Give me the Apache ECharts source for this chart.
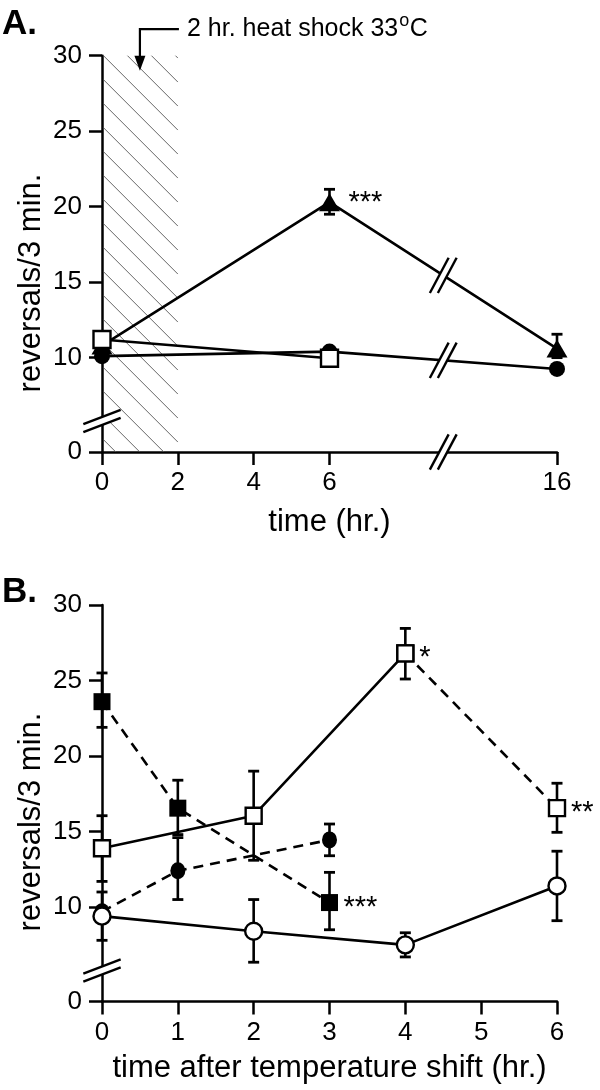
<!DOCTYPE html>
<html>
<head>
<meta charset="utf-8">
<script src="https://cdn.jsdelivr.net/npm/echarts@6.0.0/dist/echarts.min.js"></script>
<style>
html,body{margin:0;padding:0;background:#fff;}
#chart{width:600px;height:1090px;}
</style>
</head>
<body>
<div id="chart"></div>
<script>
// ---------------- data ----------------
// Panel A: hours; the 16 h point sits on the broken axis at plotting position 12
const aXTickValues = [0, 2, 4, 6, 12];
const aXTickLabels = ['0', '2', '4', '6', '16'];
const aXMax = 12;
const aBreakX = 9;
const heatShock = [0, 2];
const arrowAt = 1;

// y axis is broken: its bottom (plot value 3.75) is labelled 0
const yTickValues = [3.75, 10, 15, 20, 25, 30];
const yTickLabels = ['0', '10', '15', '20', '25', '30'];
const yMin = 3.75, yMax = 30;
const yBreakValue = 5.8;

const aTriangle = [[0, 10.8], [6, 20.3], [12, 10.6]];
const aTriangleErr = [[6, 19.5, 21.15], [12, 10.0, 11.55]];
const aCircle = [[0, 10.1], [6, 10.4], [12, 9.25]];
const aSquare = [[0, 11.2], [6, 9.96]];
const aStars = [[6, 20.3, '***']];

// Panel B
const bXTickValues = [0, 1, 2, 3, 4, 5, 6];
const bFilledSquare = [[0, 23.6], [1, 16.55], [3, 10.3]];
const bFilledSquareErr = [[0, 21.9, 25.5], [1, 14.8, 18.4], [3, 8.5, 12.3]];
const bFilledCircle = [[0, 9.7], [1, 12.4], [3, 14.45]];
const bFilledCircleErr = [[1, 10.5, 14.6], [3, 13.4, 15.5]];
const bOpenSquare = [[0, 13.9], [2, 16.05], [4, 26.8], [6, 16.55]];
const bOpenSquareErr = [[0, 11.7, 16.05], [2, 13.1, 19.0], [4, 25.1, 28.45], [6, 14.95, 18.2]];
const bOpenCircle = [[0, 9.4], [2, 8.4], [4, 7.5], [6, 11.4]];
const bOpenCircleErr = [[0, 7.8, 11.0], [2, 6.35, 10.5], [4, 6.7, 8.3], [6, 9.1, 13.7]];
const bStars = [[4, 26.8, '*'], [6, 16.55, '**'], [3, 10.3, '***']];

// ---------------- helpers ----------------
const FONT = "'Liberation Sans', Arial, Helvetica, sans-serif";
const BLACK = '#000';
const LW = 2.6;

function interpAt(series, x) {
  for (let i = 0; i < series.length - 1; i++) {
    const [x0, y0] = series[i], [x1, y1] = series[i + 1];
    if (x >= x0 && x <= x1) return y0 + (y1 - y0) * (x - x0) / (x1 - x0);
  }
  return null;
}

function measure(text, font) {
  const ctx = document.createElement('canvas').getContext('2d');
  ctx.font = font;
  return ctx.measureText(text).width;
}

function yAxis(gi) {
  return {
    gridIndex: gi, type: 'value', min: yMin, max: yMax,
    axisLine: {show: true, onZero: false, lineStyle: {color: BLACK, width: 2.5}},
    axisTick: {show: true, customValues: yTickValues, length: 13, lineStyle: {color: BLACK, width: 2.5}},
    axisLabel: {customValues: yTickValues, formatter: v => yTickLabels[yTickValues.indexOf(v)] ?? '',
      fontSize: 26, fontFamily: FONT, color: BLACK, margin: 20},
    splitLine: {show: false}
  };
}

function xAxis(gi, max, ticks, labels, name, gap) {
  return {
    gridIndex: gi, type: 'value', min: 0, max: max,
    axisLine: {show: true, onZero: false, lineStyle: {color: BLACK, width: 2.5}},
    axisTick: {show: true, customValues: ticks, length: 13, lineStyle: {color: BLACK, width: 2.5}},
    axisLabel: {customValues: ticks, formatter: v => labels[ticks.indexOf(v)] ?? '',
      fontSize: 26, fontFamily: FONT, color: BLACK, margin: 18},
    splitLine: {show: false},
    name: name, nameLocation: 'middle', nameGap: gap,
    nameTextStyle: {fontSize: 31, fontFamily: FONT, color: BLACK}
  };
}

function lineSeries(gi, data, o) {
  return {
    type: 'line', xAxisIndex: gi, yAxisIndex: gi, data: data, z: o.z,
    symbol: o.symbol, symbolSize: o.size, showSymbol: true, clip: false,
    itemStyle: {color: o.fill, borderColor: BLACK, borderWidth: o.border || 0, opacity: 1},
    lineStyle: {color: BLACK, width: LW, type: o.dash ? [10, 7] : 'solid'},
    emphasis: {disabled: true}, animation: false, silent: true
  };
}

function errSeries(gi, data, z) {
  return {
    type: 'custom', xAxisIndex: gi, yAxisIndex: gi, data: data, z: z, silent: true,
    encode: {x: 0, y: [1, 2]}, animation: false,
    renderItem(params, api) {
      const x = api.value(0);
      const p1 = api.coord([x, api.value(1)]), p2 = api.coord([x, api.value(2)]);
      const w = 5.5;
      return {type: 'group', children: [
        {type: 'line', shape: {x1: p1[0], y1: p1[1], x2: p2[0], y2: p2[1]}, style: {stroke: BLACK, lineWidth: LW}},
        {type: 'line', shape: {x1: p1[0] - w, y1: p1[1], x2: p1[0] + w, y2: p1[1]}, style: {stroke: BLACK, lineWidth: 2.8}},
        {type: 'line', shape: {x1: p2[0] - w, y1: p2[1], x2: p2[0] + w, y2: p2[1]}, style: {stroke: BLACK, lineWidth: 2.8}}
      ]};
    }
  };
}

function breakSeries(gi, data) {
  return {
    type: 'custom', xAxisIndex: gi, yAxisIndex: gi, data: data, z: 20, silent: true,
    encode: {x: 0, y: 1}, animation: false,
    renderItem(params, api) {
      const c = api.coord([api.value(0), api.value(1)]);
      const kind = api.value(2); // 0: across x axis / lines (steep), 1: across y axis (shallow)
      const ang = (kind ? 21 : 62) * Math.PI / 180;
      const L = 20, g = 4;
      const d = [Math.cos(ang) * L, -Math.sin(ang) * L];
      const o = kind ? [0, g] : [g, 0];
      const p = (s1, s2) => [c[0] + s1 * o[0] + s2 * d[0], c[1] + s1 * o[1] + s2 * d[1]];
      const a1 = p(-1, -1), a2 = p(-1, 1), b1 = p(1, -1), b2 = p(1, 1);
      return {type: 'group', children: [
        {type: 'polygon', shape: {points: [a1, a2, b2, b1]}, style: {fill: '#fff'}},
        {type: 'line', shape: {x1: a1[0], y1: a1[1], x2: a2[0], y2: a2[1]}, style: {stroke: BLACK, lineWidth: 2.4}},
        {type: 'line', shape: {x1: b1[0], y1: b1[1], x2: b2[0], y2: b2[1]}, style: {stroke: BLACK, lineWidth: 2.4}}
      ]};
    }
  };
}

function starSeries(gi, data, dx, dy) {
  return {
    type: 'custom', xAxisIndex: gi, yAxisIndex: gi, data: data.map(d => [d[0], d[1]]), z: 25, silent: true,
    encode: {x: 0, y: 1}, animation: false,
    renderItem(params, api) {
      const c = api.coord([api.value(0), api.value(1)]);
      return {type: 'text', x: c[0] + dx, y: c[1] + dy,
        style: {text: data[params.dataIndex][2], font: '29px ' + FONT, fill: BLACK,
          align: 'left', verticalAlign: 'middle', textAlign: 'left', textVerticalAlign: 'middle'}};
    }
  };
}

const hatchSeries = {
  type: 'custom', xAxisIndex: 0, yAxisIndex: 0, data: [[heatShock[0], heatShock[1]]], z: 1, silent: true,
  encode: {x: [0, 1]}, animation: false,
  renderItem(params, api) {
    const tl = api.coord([api.value(0), yMax]), br = api.coord([api.value(1), yMin]);
    const x0 = tl[0] + 1.5, y0 = tl[1], x1 = br[0], y1 = br[1];
    const step = 24, c0 = y0 - x0;
    const kids = [];
    for (let k = -20; k < 40; k++) {
      const c = c0 + k * step; // line: y = x + c
      const xa = Math.max(x0, y0 - c), xb = Math.min(x1, y1 - c);
      if (xb > xa) kids.push({type: 'line', shape: {x1: xa, y1: xa + c, x2: xb, y2: xb + c},
        style: {stroke: '#555', lineWidth: 0.9}});
    }
    return {type: 'group', children: kids};
  }
};

const arrowSeries = {
  type: 'custom', xAxisIndex: 0, yAxisIndex: 0, data: [[arrowAt, yMax]], z: 15, silent: true,
  encode: {x: 0, y: 1}, animation: false,
  renderItem(params, api) {
    const c = api.coord([api.value(0), api.value(1)]);
    const x = c[0], yTop = c[1] - 26.5, yTip = c[1] + 15;
    return {type: 'group', children: [
      {type: 'polyline', shape: {points: [[x + 39, yTop], [x, yTop], [x, yTip - 10]]},
        style: {stroke: BLACK, lineWidth: 2.2, fill: null}},
      {type: 'polygon', shape: {points: [[x - 5.5, yTip - 15], [x + 5.5, yTip - 15], [x, yTip]]}, style: {fill: BLACK}}
    ]};
  }
};

const aBreaks = [
  [aBreakX, yMin, 0],
  [aBreakX, interpAt(aTriangle, aBreakX), 0],
  [aBreakX, interpAt(aCircle, aBreakX), 0],
  [0, yBreakValue, 1]
];
const bBreaks = [[0, yBreakValue, 1]];

// heat-shock annotation text pieces (with superscript o)
const annMain = '2 hr. heat shock 33', annSup = 'o', annEnd = 'C';
const annFont = '25px ' + FONT, supFont = '18px ' + FONT;
const annX = 187, annY = 29;
const wMain = measure(annMain, annFont), wSup = measure(annSup, supFont);
const txt = (text, x, y, font) => ({type: 'text', x: x, y: y, style: {text: text, font: font, fill: BLACK,
  align: 'left', verticalAlign: 'middle', textAlign: 'left', textVerticalAlign: 'middle'}});

const option = {
  backgroundColor: '#fff',
  animation: false,
  grid: [
    {left: 102, right: 43, top: 55.7, bottom: 638, outerBoundsMode: 'none', containLabel: false},
    {left: 102, right: 43, top: 605, bottom: 88.5, outerBoundsMode: 'none', containLabel: false}
  ],
  xAxis: [
    xAxis(0, aXMax, aXTickValues, aXTickLabels, 'time (hr.)', 55),
    xAxis(1, 6, bXTickValues, bXTickValues.map(String), 'time after temperature shift (hr.)', 51)
  ],
  yAxis: [yAxis(0), yAxis(1)],
  series: [
    hatchSeries,
    errSeries(0, aTriangleErr, 2),
    lineSeries(0, aTriangle, {symbol: 'triangle', size: [21, 18], fill: BLACK, z: 3}),
    lineSeries(0, aCircle, {symbol: 'circle', size: 16, fill: BLACK, z: 4}),
    lineSeries(0, aSquare, {symbol: 'rect', size: 17, fill: '#fff', border: 2.4, z: 5}),
    breakSeries(0, aBreaks),
    arrowSeries,
    starSeries(0, aStars, 19, 1),

    errSeries(1, bFilledSquareErr, 2),
    errSeries(1, bFilledCircleErr, 2),
    errSeries(1, bOpenSquareErr, 2),
    errSeries(1, bOpenCircleErr, 2),
    lineSeries(1, bFilledSquare, {symbol: 'rect', size: 17, fill: BLACK, dash: true, z: 3}),
    lineSeries(1, bFilledCircle, {symbol: 'circle', size: [15, 17], fill: BLACK, dash: true, z: 3}),
    lineSeries(1, bOpenSquare.slice(0, 3), {symbol: 'rect', size: 16, fill: '#fff', border: 2.4, z: 4}),
    lineSeries(1, bOpenSquare.slice(2), {symbol: 'rect', size: 16, fill: '#fff', border: 2.4, dash: true, z: 4}),
    lineSeries(1, bOpenCircle, {symbol: 'circle', size: 17, fill: '#fff', border: 2.4, z: 5}),
    breakSeries(1, bBreaks),
    starSeries(1, bStars, 14, 5)
  ],
  graphic: [
    txt('A.', 2, 24, 'bold 35px ' + FONT),
    txt('B.', 2, 592, 'bold 35px ' + FONT),
    txt(annMain, annX, annY, annFont),
    txt(annSup, annX + wMain + 1, annY - 8, supFont),
    txt(annEnd, annX + wMain + wSup + 1.5, annY, annFont),
    {type: 'text', x: 31, y: 283, rotation: Math.PI / 2, style: {text: 'reversals/3 min.', font: '31px ' + FONT, fill: BLACK,
      align: 'center', verticalAlign: 'middle', textAlign: 'center', textVerticalAlign: 'middle'}},
    {type: 'text', x: 31, y: 822, rotation: Math.PI / 2, style: {text: 'reversals/3 min.', font: '31px ' + FONT, fill: BLACK,
      align: 'center', verticalAlign: 'middle', textAlign: 'center', textVerticalAlign: 'middle'}}
  ]
};

const chart = echarts.init(document.getElementById('chart'), null, {renderer: 'canvas'});
chart.setOption(option);
</script>
</body>
</html>
